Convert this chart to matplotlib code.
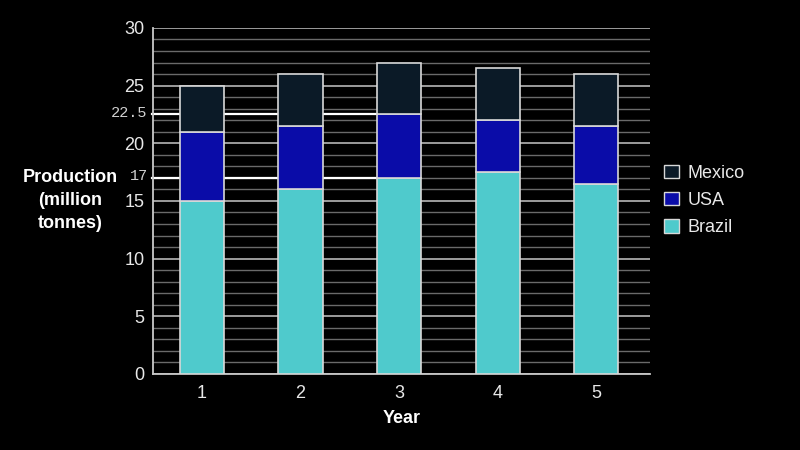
import matplotlib
matplotlib.use("Agg")
import matplotlib.pyplot as plt
import matplotlib.transforms as mtransforms
from matplotlib.patches import Patch
import numpy as np

plt.rcParams['font.family'] = ['Liberation Sans', 'DejaVu Sans']

years = [1, 2, 3, 4, 5]
brazil = [15.0, 16.0, 17.0, 17.5, 16.5]
usa = [6.0, 5.5, 5.5, 4.5, 5.0]
mexico = [4.0, 4.5, 4.5, 4.5, 4.5]
ref_values = [22.5, 17]
ref_labels = ["22.5", "17"]
series_names = ["Mexico", "USA", "Brazil"]

c_brazil = "#4fcacc"
c_usa = "#0a0ca8"
c_mexico = "#0b1a27"
edge = "#d8d8d8"

fig = plt.figure(figsize=(8, 4.5), dpi=100, facecolor="black")
ax = fig.add_axes([0.191, 0.169, 0.622, 0.769])
ax.set_facecolor("black")

x = np.array(years)
w = 0.45
brazil = np.array(brazil)
usa = np.array(usa)
mexico = np.array(mexico)
ax.bar(x, brazil, w, color=c_brazil, edgecolor=edge, linewidth=1.2, zorder=3)
ax.bar(x, usa, w, bottom=brazil, color=c_usa, edgecolor=edge, linewidth=1.2, zorder=3)
ax.bar(x, mexico, w, bottom=brazil + usa, color=c_mexico, edgecolor=edge, linewidth=1.2, zorder=3)

ax.set_xlim(0.5, 5.55)
ax.set_ylim(0, 30)
ax.set_yticks(range(0, 31, 5))
ax.set_yticks(range(0, 31, 1), minor=True)
ax.set_xticks(years)
ax.grid(True, which="major", axis="y", color="#a8a8a8", linewidth=1.3, zorder=1)
ax.grid(True, which="minor", axis="y", color="#6a6a6a", linewidth=1.0, zorder=1)
ax.tick_params(axis="both", which="both", length=0, colors="#e8e8e8", labelsize=13)
ax.tick_params(axis="y", pad=6)
ax.tick_params(axis="x", pad=8)
for s in ["top", "right"]:
    ax.spines[s].set_visible(False)
for s in ["left", "bottom"]:
    ax.spines[s].set_color("#c8c8c8")
    ax.spines[s].set_linewidth(1.3)

# reference lines up to bar 3
trans = mtransforms.blended_transform_factory(ax.transAxes, ax.transData)
for v, lab in zip(ref_values, ref_labels):
    ax.plot([0.5 - 0.01, 3 - w / 2], [v, v], color="white", linewidth=1.6, zorder=2, clip_on=False)
    ax.text(-0.01, v + 0.15, lab, transform=trans, ha="right", va="center",
            fontsize=11, family="Liberation Mono", color="#d0d0d0")

ax.set_xlabel("Year", color="white", fontsize=13, fontweight="bold", labelpad=6)
fig.text(0.088, 0.555, "Production\n(million\ntonnes)", color="white", fontsize=13,
         fontweight="bold", ha="center", va="center", linespacing=1.45)

handles = [Patch(facecolor=c_mexico, edgecolor=edge),
           Patch(facecolor=c_usa, edgecolor=edge),
           Patch(facecolor=c_brazil, edgecolor=edge)]
leg = fig.legend(handles, series_names, loc="center left", bbox_to_anchor=(0.81, 0.555),
                 frameon=False, fontsize=13, labelcolor="#e8e8e8", handlelength=0.8,
                 handleheight=0.8, handletextpad=0.5, labelspacing=0.55)

fig.savefig("out.png", dpi=100, facecolor="black")
